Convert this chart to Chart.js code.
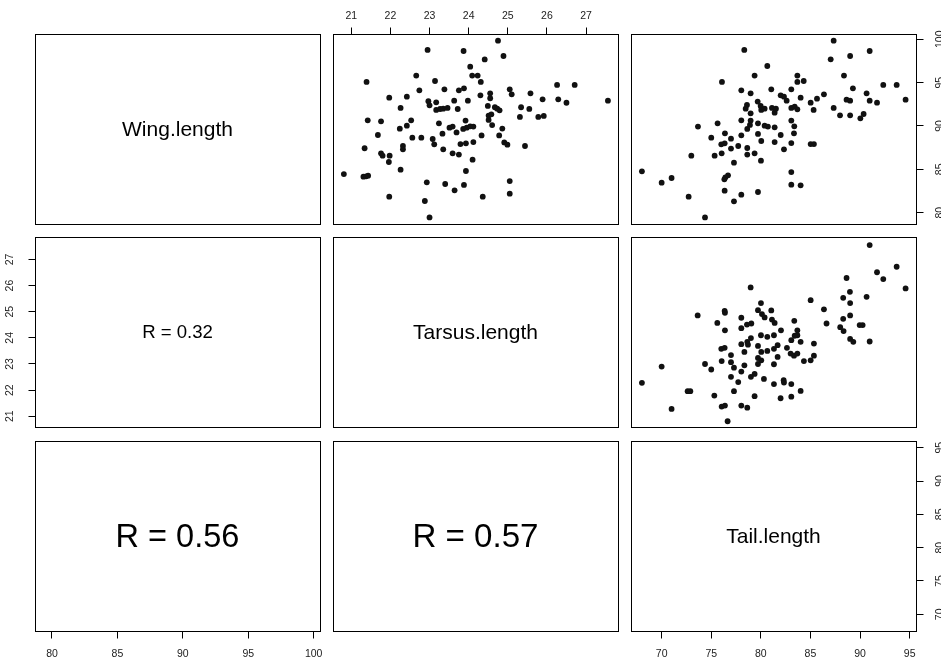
<!DOCTYPE html>
<html>
<head>
<meta charset="utf-8">
<title>Wing / Tarsus / Tail</title>
<script src="https://cdn.jsdelivr.net/npm/chart.js@4.4.1/dist/chart.umd.min.js"></script>
<style>
    html, body { margin: 0; padding: 0; background: #fff; overflow: hidden; }
    #plot { position: relative; width: 941px; height: 662px; overflow: hidden; }
    #plot canvas { position: absolute; }
    .panel-label {
        position: absolute;
        display: flex;
        align-items: center;
        justify-content: center;
        font-family: 'Liberation Sans', Arial, sans-serif;
        color: #000;
        white-space: nowrap;
    }
</style>
</head>
<body>
<div id="plot"></div>
<script>
// 축 눈금
const wingTicks = [80, 85, 90, 95, 100];
const tarsusTicks = [21, 22, 23, 24, 25, 26, 27];
const tailTicks = [70, 75, 80, 85, 90, 95];

// 축 범위 (가로 / 세로)
const wingRangeX = [78.74, 100.52];
const wingRangeY = [78.64, 100.55];
const tarsusRangeX = [20.545, 27.83];
const tarsusRangeY = [20.57, 27.84];
const tailRangeX = [66.96, 95.69];
const tailRangeY = [67.42, 95.93];

// 대각선 변수 이름
const varNames = ['Wing.length', 'Tarsus.length', 'Tail.length'];

// 상관계수 라벨
const corrLabels = ['R = 0.32', 'R = 0.56', 'R = 0.57'];
const corrValues = [0.32, 0.56, 0.57];

// [Tarsus, Wing]
const wingByTarsus = [
    [22.95, 98.77], [23.87, 98.65], [24.04, 96.84], [24.09, 95.81], [24.23, 95.81], [22.66, 95.81],
    [21.39, 95.08], [23.14, 95.19], [22.74, 94.11], [23.38, 94.23], [23.75, 94.11], [23.88, 94.34],
    [21.97, 93.27], [22.42, 93.38], [22.97, 92.85], [23.00, 92.38], [23.17, 92.73], [23.63, 92.92],
    [23.98, 92.92], [22.26, 92.08], [23.17, 91.85], [23.27, 91.96], [23.35, 92.00], [23.46, 92.08],
    [23.72, 91.96], [21.42, 90.65], [21.76, 90.54], [22.53, 90.65], [22.42, 90.04], [22.24, 89.69],
    [23.24, 90.31], [23.51, 89.81], [23.59, 89.93], [23.92, 90.62], [23.95, 89.81], [23.86, 89.66],
    [24.04, 89.96], [24.12, 89.93], [21.68, 88.96], [23.33, 89.11], [23.69, 89.26], [22.56, 88.65],
    [22.79, 88.65], [23.08, 88.50], [23.12, 87.88], [23.79, 87.92], [23.93, 88.00], [24.12, 88.15],
    [22.32, 87.69], [22.32, 87.31], [21.34, 87.43], [23.35, 87.31], [21.76, 86.85], [21.80, 86.58],
    [21.98, 86.58], [23.59, 86.85], [23.75, 86.70], [21.96, 85.85], [24.10, 86.12], [20.81, 84.46],
    [21.31, 84.16], [21.38, 84.20], [21.43, 84.27], [22.26, 84.96], [23.93, 84.81], [22.93, 83.50],
    [23.40, 83.31], [23.88, 83.20], [23.64, 82.58], [21.97, 81.85], [22.88, 81.35], [23.00, 79.46],
    [24.75, 99.84], [24.89, 98.07], [24.41, 97.68], [24.31, 95.08], [24.30, 93.54], [24.55, 93.77],
    [24.55, 93.20], [25.05, 94.23], [25.10, 93.65], [25.58, 93.77], [25.89, 93.07], [26.26, 94.73],
    [26.71, 94.73], [26.29, 93.07], [26.50, 92.68], [27.56, 92.92], [24.49, 92.31], [24.67, 92.16],
    [24.73, 92.00], [24.79, 91.81], [25.34, 92.16], [25.55, 91.97], [24.51, 91.20], [24.58, 91.35],
    [25.31, 91.05], [25.78, 91.05], [25.92, 91.16], [24.51, 90.70], [24.60, 90.10], [24.86, 89.70],
    [24.33, 88.91], [24.78, 88.91], [24.91, 88.10], [24.99, 87.85], [25.44, 87.69], [25.05, 83.65],
    [25.05, 82.19], [24.36, 81.85]
];

// [Tail, Wing]
const wingByTail = [
    [78.33, 98.77], [80.65, 96.92], [79.37, 95.81], [76.08, 95.08], [78.03, 94.11], [78.97, 93.77],
    [81.05, 94.23], [79.68, 92.81], [78.60, 92.42], [78.47, 92.00], [79.98, 92.31], [80.04, 91.85],
    [80.38, 92.00], [81.12, 92.08], [81.39, 91.54], [78.97, 91.46], [78.03, 90.65], [78.97, 90.62],
    [79.71, 90.31], [80.38, 90.04], [80.71, 89.93], [81.39, 89.85], [75.64, 90.31], [73.66, 89.93],
    [78.63, 89.66], [78.90, 90.12], [78.03, 88.92], [79.71, 89.08], [75.00, 88.65], [76.38, 89.15],
    [76.99, 88.54], [76.01, 87.88], [76.35, 88.00], [80.04, 88.27], [81.39, 88.15], [77.72, 87.69],
    [76.99, 87.39], [78.63, 87.46], [72.99, 86.58], [75.34, 86.58], [76.05, 86.85], [78.63, 86.70],
    [79.37, 86.85], [80.01, 86.00], [77.29, 85.77], [68.01, 84.77], [70.00, 83.46], [71.00, 84.00],
    [76.69, 84.31], [76.42, 84.08], [76.32, 83.85], [76.35, 82.54], [72.72, 81.85], [78.03, 82.08],
    [77.29, 81.31], [79.71, 82.39], [74.37, 79.46],
    [87.34, 99.84], [87.04, 97.69], [89.00, 98.07], [90.97, 98.65], [88.38, 95.81], [83.68, 95.81],
    [83.68, 95.08], [84.32, 95.19], [83.07, 94.23], [89.28, 94.34], [92.34, 94.73], [93.69, 94.73],
    [90.66, 93.77], [86.36, 93.65], [82.00, 93.54], [82.33, 93.38], [82.60, 92.92], [84.01, 93.27],
    [85.66, 93.15], [85.02, 92.69], [88.64, 93.04], [89.00, 92.92], [90.97, 92.92], [91.71, 92.69],
    [94.59, 93.04], [83.07, 92.08], [83.41, 92.23], [83.68, 91.92], [85.32, 91.85], [87.34, 92.08],
    [87.98, 91.23], [89.00, 91.23], [90.03, 90.88], [90.36, 91.38], [83.07, 90.62], [83.37, 89.96],
    [83.34, 89.15], [82.00, 88.96], [83.07, 88.03], [82.33, 87.31], [85.02, 87.92], [85.35, 87.92],
    [83.07, 84.69], [83.07, 83.23], [84.01, 83.16], [81.52, 92.00]
];

// [Tail, Tarsus]
const tarsusByTail = [
    [78.97, 25.93], [80.01, 25.33], [79.71, 25.06], [81.05, 25.05], [76.35, 25.03], [76.38, 24.96],
    [80.11, 24.91], [80.38, 24.78], [81.12, 24.70], [81.39, 24.57], [73.63, 24.86], [75.61, 24.57],
    [78.03, 24.77], [78.60, 24.51], [79.04, 24.55], [78.03, 24.37], [76.38, 24.29], [80.01, 24.10],
    [80.65, 24.04], [81.32, 24.10], [79.00, 23.99], [78.63, 23.85], [78.70, 23.74], [78.03, 23.76],
    [79.71, 23.69], [76.01, 23.58], [76.35, 23.62], [80.65, 23.50], [80.04, 23.46], [81.32, 23.58],
    [78.34, 23.46], [76.99, 23.34], [79.71, 23.23], [80.04, 23.14], [76.05, 23.11], [76.99, 23.07],
    [74.37, 23.00], [75.00, 22.79], [77.29, 22.86], [78.34, 22.95], [79.71, 23.00], [81.32, 22.99],
    [70.00, 22.90], [68.01, 22.28], [76.99, 22.51], [77.72, 22.31], [78.03, 22.71], [79.00, 22.51],
    [79.37, 22.62], [80.31, 22.43], [81.32, 22.23], [72.62, 21.96], [72.89, 21.96], [77.29, 21.96],
    [75.31, 21.79], [79.37, 21.77], [76.05, 21.37], [76.38, 21.41], [78.03, 21.41], [78.63, 21.33],
    [71.00, 21.28], [76.65, 20.81],
    [90.97, 27.55], [93.69, 26.72], [91.71, 26.51], [92.34, 26.25], [94.59, 25.89], [88.64, 26.29],
    [88.98, 25.76], [88.30, 25.53], [90.66, 25.57], [85.02, 25.44], [86.36, 25.09], [89.00, 25.33],
    [89.00, 24.86], [88.30, 24.73], [88.00, 24.41], [86.62, 24.55], [89.96, 24.49], [90.26, 24.49],
    [88.34, 24.26], [89.00, 23.96], [89.32, 23.85], [90.97, 23.86], [83.37, 24.65], [82.03, 24.29],
    [83.68, 24.29], [83.68, 24.10], [83.41, 24.08], [83.07, 23.91], [84.01, 23.85], [85.35, 23.78],
    [81.69, 23.72], [82.63, 23.62], [83.00, 23.40], [83.34, 23.32], [83.68, 23.40], [81.69, 23.27],
    [85.35, 23.32], [85.02, 23.14], [84.34, 23.11], [82.30, 22.38], [82.33, 22.29], [83.07, 22.23],
    [84.01, 21.97], [81.99, 21.69], [83.07, 21.75]
];

// 레이아웃
const FONT = "'Liberation Sans', Arial, sans-serif";
const M = 40;               // 패널 바깥 여백 (눈금 + 라벨)
const BOX_W = 285;
const BOX_H = 190;
const COL_X = [35.5, 333.5, 631.5];
const ROW_Y = [34.5, 237.5, 441.5];
const CORR_PX_PER_R = 58.1; // 상관계수 글자 크기 = r 비례

// 패널 테두리
const panelBox = {
    id: 'panelBox',
    afterDraw(chart) {
        const { ctx, chartArea: a } = chart;
        ctx.save();
        ctx.strokeStyle = '#000';
        ctx.lineWidth = 1;
        ctx.strokeRect(a.left, a.top, a.right - a.left, a.bottom - a.top);
        ctx.restore();
    }
};

// 축 옵션
function makeAxis(range, ticks, side, pad) {
    const axis = { type: 'linear', min: range[0], max: range[1], display: !!side };
    if (!side) return axis;
    const vertical = side === 'left' || side === 'right';
    axis.position = side;
    axis.grid = {
        drawOnChartArea: false,
        drawTicks: true,
        tickLength: 7,
        tickColor: '#000',
        tickWidth: 1
    };
    axis.border = { display: false };
    axis.ticks = {
        autoSkip: false,
        color: '#222',
        font: { family: FONT, size: 10.5 },
        padding: pad,
        minRotation: vertical ? 90 : 0,
        maxRotation: vertical ? 90 : 0,
        crossAlign: vertical ? 'center' : 'near'
    };
    axis.afterBuildTicks = scale => {
        scale.ticks = ticks.map(v => ({ value: v }));
    };
    axis.afterFit = scale => {
        if (vertical) scale.width = M + 0.5;
        else scale.height = M + 0.5;
    };
    return axis;
}

// 패널 하나 그리기
function drawPanel(row, col, cfg) {
    const plot = document.getElementById('plot');
    const canvas = document.createElement('canvas');
    canvas.width = BOX_W + 2 * M + 1;
    canvas.height = BOX_H + 2 * M + 1;
    canvas.style.left = (COL_X[col] - M - 0.5) + 'px';
    canvas.style.top = (ROW_Y[row] - M - 0.5) + 'px';
    plot.appendChild(canvas);

    const xSide = cfg.x.side, ySide = cfg.y.side;
    const datasets = cfg.points ? [{
        data: cfg.points.map(p => ({ x: p[0], y: p[1] })),
        pointRadius: 2.9,
        pointBackgroundColor: '#111',
        pointBorderWidth: 0,
        showLine: false
    }] : [];

    new Chart(canvas.getContext('2d'), {
        type: 'scatter',
        data: { datasets },
        options: {
            responsive: false,
            animation: false,
            devicePixelRatio: 1,
            events: [],
            layout: {
                padding: {
                    left: ySide === 'left' ? 0 : M + 0.5,
                    right: ySide === 'right' ? 0 : M + 0.5,
                    top: xSide === 'top' ? 0 : M + 0.5,
                    bottom: xSide === 'bottom' ? 0 : M + 0.5
                }
            },
            plugins: { legend: { display: false }, tooltip: { enabled: false } },
            scales: {
                x: makeAxis(cfg.x.range, cfg.x.ticks, xSide, cfg.x.pad),
                y: makeAxis(cfg.y.range, cfg.y.ticks, ySide, cfg.y.pad)
            }
        },
        plugins: [panelBox]
    });

    if (cfg.text) {
        const label = document.createElement('div');
        label.className = 'panel-label';
        label.style.left = (COL_X[col] - 0.5) + 'px';
        label.style.top = (ROW_Y[row] - 0.5) + 'px';
        label.style.width = BOX_W + 'px';
        label.style.height = BOX_H + 'px';
        label.style.fontSize = cfg.size + 'px';
        label.textContent = cfg.text;
        plot.appendChild(label);
    }
}

const wingX = { range: wingRangeX, ticks: wingTicks };
const wingY = { range: wingRangeY, ticks: wingTicks };
const tarsusX = { range: tarsusRangeX, ticks: tarsusTicks };
const tarsusY = { range: tarsusRangeY, ticks: tarsusTicks };
const tailX = { range: tailRangeX, ticks: tailTicks };
const tailY = { range: tailRangeY, ticks: tailTicks };

// 1행
drawPanel(0, 0, { x: wingX, y: wingY, text: varNames[0], size: 21 });
drawPanel(0, 1, { x: { ...tarsusX, side: 'top', pad: 5.5 }, y: wingY, points: wingByTarsus });
drawPanel(0, 2, { x: tailX, y: { ...wingY, side: 'right', pad: 7.7 }, points: wingByTail });

// 2행
drawPanel(1, 0, { x: wingX, y: { ...tarsusY, side: 'left', pad: 13 },
    text: corrLabels[0], size: corrValues[0] * CORR_PX_PER_R });
drawPanel(1, 1, { x: tarsusX, y: tarsusY, text: varNames[1], size: 21 });
drawPanel(1, 2, { x: tailX, y: tarsusY, points: tarsusByTail });

// 3행
drawPanel(2, 0, { x: { ...wingX, side: 'bottom', pad: 9 }, y: tailY,
    text: corrLabels[1], size: corrValues[1] * CORR_PX_PER_R });
drawPanel(2, 1, { x: tarsusX, y: tailY, text: corrLabels[2], size: corrValues[2] * CORR_PX_PER_R });
drawPanel(2, 2, { x: { ...tailX, side: 'bottom', pad: 9 }, y: { ...tailY, side: 'right', pad: 10.7 },
    text: varNames[2], size: 21 });
</script>
</body>
</html>
